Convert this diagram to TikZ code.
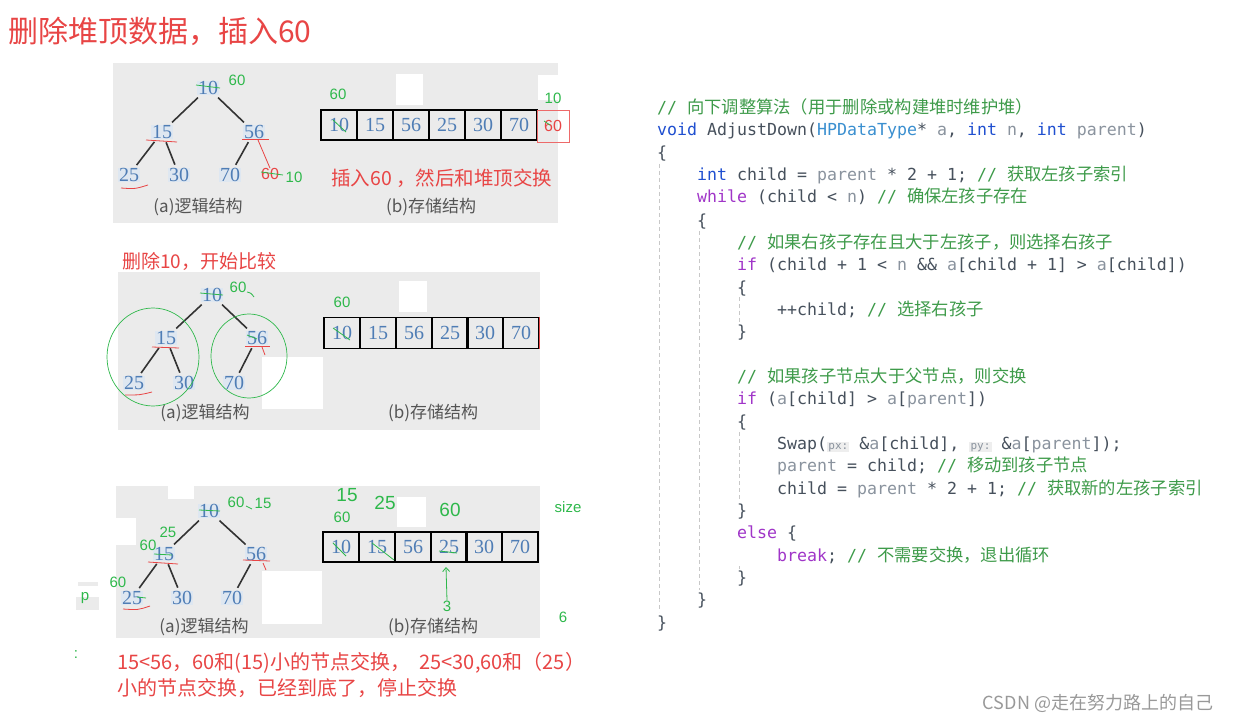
\documentclass[tikz,border=0pt]{standalone}
\usepackage{fontspec}
\usetikzlibrary{arrows.meta}
\setmainfont{Liberation Serif}
\newfontfamily\cjk{Noto Sans CJK SC}
\newfontfamily\codef{DejaVu Sans Mono}
\newfontfamily\sansf{Liberation Sans}
\definecolor{panelgray}{HTML}{EBEBEB}
\definecolor{treeblue}{HTML}{4F7DB5}
\definecolor{hlblue}{HTML}{DEE7F1}
\definecolor{myred}{HTML}{E84545}
\definecolor{mygreen}{HTML}{2EB84B}
\definecolor{edgec}{HTML}{333333}
\definecolor{labc}{HTML}{555555}
\definecolor{ckwc}{HTML}{1F4FD0}
\definecolor{cpuc}{HTML}{A035C8}
\definecolor{cpac}{HTML}{8A939E}
\definecolor{ccmc}{HTML}{3E9B4A}
\definecolor{ctyc}{HTML}{3A8FD0}
\definecolor{cdefc}{HTML}{46505C}
\definecolor{hintbg}{HTML}{EEEEEE}
\definecolor{hintfg}{HTML}{8A939E}
\definecolor{guidec}{HTML}{C8C8C8}
\newcommand\ckw[1]{\textcolor{ckwc}{#1}}
\newcommand\cpur[1]{\textcolor{cpuc}{#1}}
\newcommand\cpar[1]{\textcolor{cpac}{#1}}
\newcommand\ctyp[1]{\textcolor{ctyc}{#1}}
\newcommand\ccom[1]{\textcolor{ccmc}{//\ {\cjk\fontsize{17.3}{20}\selectfont #1}}}
\newcommand\chint[1]{{\setlength{\fboxsep}{1.2pt}\colorbox{hintbg}{\fontsize{11}{12}\selectfont\textcolor{hintfg}{#1}}}}
\tikzset{
  panel/.style={fill=panelgray, draw=none},
  whitebox/.style={fill=white, draw=none},
  tnum/.style={font=\fontsize{20}{22}\selectfont, text=treeblue, fill=hlblue, inner sep=0.6pt},
  tedge/.style={draw=edgec, line width=1.6pt, shorten <=3pt, shorten >=3pt},
  cell/.style={draw=black, line width=1.3pt, minimum width=36pt, minimum height=30pt, inner sep=0pt, font=\fontsize{20}{22}\selectfont, text=treeblue},
  lab/.style={font=\cjk\fontsize{17}{19}\selectfont, text=labc},
  gnote/.style={font=\sansf\fontsize{15}{17}\selectfont, text=mygreen, inner sep=0pt},
  ghand/.style={font=\sansf\fontsize{19}{22}\selectfont, text=mygreen, inner sep=0pt},
  rnote/.style={font=\cjk\fontsize{19.5}{22}\selectfont, text=myred, inner sep=0pt},
  gstroke/.style={draw=mygreen, line width=0.8pt},
  rstroke/.style={draw=myred, line width=0.8pt},
  codeline/.style={anchor=base west, font=\codef\fontsize{16.6}{20}\selectfont, text=cdefc, inner sep=0pt},
  guide/.style={draw=guidec, line width=0.6pt, dash pattern=on 4pt off 3pt},
}
\begin{document}
\begin{tikzpicture}[x=1pt,y=-1pt]
\useasboundingbox (0,0) rectangle (1236,722);
\fill[white] (0,0) rectangle (1236,722);

% ---------- title ----------
\node[font=\cjk\fontsize{30}{33}\selectfont, text=myred, anchor=west, inner sep=0pt] (title) at (8,31) {删除堆顶数据，插入60};

% ---------- panel 1 ----------
\fill[panel] (113,63) rectangle (558,223);
\fill[whitebox] (396,74) rectangle (423,105);
\fill[whitebox] (538,75) rectangle (558,100);
\node[tnum] (p1r) at (208,88) {10};
\node[tnum] (p1a) at (162,132) {15};
\node[tnum] (p1b) at (254,132) {56};
\node[tnum] (p1c) at (129,175) {25};
\node[tnum] (p1d) at (179,175) {30};
\node[tnum] (p1e) at (230,175) {70};
\draw[tedge] (p1r) -- (p1a);
\draw[tedge] (p1r) -- (p1b);
\draw[tedge] (p1a) -- (p1c);
\draw[tedge] (p1a) -- (p1d);
\draw[tedge] (p1b) -- (p1e);
\node[lab] (p1la) at (198,207) {(a)逻辑结构};
\node[lab] (p1lb) at (431,207) {(b)存储结构};
\node[cell] (p1c1) at (339,125) {10};
\node[cell] (p1c2) at (375,125) {15};
\node[cell] (p1c3) at (411,125) {56};
\node[cell] (p1c4) at (447,125) {25};
\node[cell] (p1c5) at (483,125) {30};
\node[cell] (p1c6) at (519,125) {70};
\node[draw=myred!80, line width=0.5pt, minimum width=32pt, minimum height=32pt, inner sep=0pt, font=\sansf\fontsize{16}{18}\selectfont, text=myred] (p1new) at (553,126) {60};
\node[gnote] (p1g1) at (237,80) {60};
\node[gnote] (p1g2) at (338,94) {60};
\node[gnote] (p1g3) at (553,98) {10};
\node[font=\sansf\fontsize{16}{18}\selectfont, text=myred, inner sep=0pt] (p1r60) at (270,174) {60};
\node[gnote] (p1g4) at (294,177) {10};
\node[rnote, anchor=west] (p1txt) at (331,178) {插入60 ，然后和堆顶交换};
\coordinate (p1ls) at (258,140);
\draw[rstroke] (p1ls) -- (p1r60.north);
\draw[gstroke] (196,85) -- (220,88);
\draw[gstroke] (261,172) -- (283,175);
\draw[gstroke] (333,120) -- (346,132);
\draw[gstroke] (544,121) -- (550,125);
\draw[rstroke] (146,140) -- (177,142);
\draw[rstroke] (242,139) -- (269,139);
\draw[rstroke] (121,188) .. controls (135,189) .. (148,185);

% ---------- panel 2 ----------
\node[rnote, font=\cjk\fontsize{19}{22}\selectfont, anchor=west] (p2title) at (122,261) {删除10，开始比较};
\fill[panel] (118,272) rectangle (540,430);
\fill[whitebox] (262,357) rectangle (323,409);
\fill[whitebox] (399,281) rectangle (427,312);
\node[tnum] (p2r) at (212,295) {10};
\node[tnum] (p2a) at (166,338) {15};
\node[tnum] (p2b) at (257,338) {56};
\node[tnum] (p2c) at (134,383) {25};
\node[tnum] (p2d) at (184,383) {30};
\node[tnum] (p2e) at (234,383) {70};
\draw[tedge] (p2r) -- (p2a);
\draw[tedge] (p2r) -- (p2b);
\draw[tedge] (p2a) -- (p2c);
\draw[tedge] (p2a) -- (p2d);
\draw[tedge] (p2b) -- (p2e);
\node[lab] (p2la) at (205,413) {(a)逻辑结构};
\node[lab] (p2lb) at (433,413) {(b)存储结构};
\node[cell, minimum width=35.8pt, minimum height=31pt] (p2c1) at (342,333) {10};
\node[cell, minimum width=35.8pt, minimum height=31pt] (p2c2) at (378,333) {15};
\node[cell, minimum width=35.8pt, minimum height=31pt] (p2c3) at (414,333) {56};
\node[cell, minimum width=35.8pt, minimum height=31pt] (p2c4) at (450,333) {25};
\node[cell, minimum width=35.8pt, minimum height=31pt] (p2c5) at (485,333) {30};
\node[cell, minimum width=35.8pt, minimum height=31pt] (p2c6) at (521,333) {70};
\draw[draw=myred, line width=1.2pt] (p2c6.north east) -- (p2c6.south east);
\node[gnote] (p2g1) at (238,287) {60};
\node[gnote] (p2g2) at (342,302) {60};
\draw[gstroke] (247,292) .. controls (251,293) .. (254,297);
\draw[gstroke] (200,293) -- (223,295);
\draw[gstroke] (333,328) -- (350,340);
\draw[gstroke] (247,335) -- (257,339);
\draw[mygreen, line width=0.7pt] (153,357) ellipse [x radius=46, y radius=49];
\draw[mygreen, line width=0.7pt] (249,356) ellipse [x radius=38, y radius=42];
\draw[rstroke] (152,347) -- (179,348);
\draw[rstroke] (245,346) -- (270,346);
\draw[rstroke] (262,347) -- (265,355);
\draw[rstroke] (125,395) .. controls (140,395) .. (152,392);

% ---------- panel 3 ----------
\fill[panel] (116,486) rectangle (540,638);
\fill[whitebox] (168,485) rectangle (194,499);
\fill[whitebox] (115,518) rectangle (136,545);
\fill[whitebox] (262,571) rectangle (322,624);
\fill[whitebox] (397,497) rectangle (426,527);
\fill[panel] (78,582) rectangle (98,586);
\fill[panel] (76,597) rectangle (99,610);
\node[tnum] (p3r) at (209,511) {10};
\node[tnum] (p3a) at (164,554) {15};
\node[tnum] (p3b) at (256,554) {56};
\node[tnum] (p3c) at (132,598) {25};
\node[tnum] (p3d) at (182,598) {30};
\node[tnum] (p3e) at (232,598) {70};
\draw[tedge] (p3r) -- (p3a);
\draw[tedge] (p3r) -- (p3b);
\draw[tedge] (p3a) -- (p3c);
\draw[tedge] (p3a) -- (p3d);
\draw[tedge] (p3b) -- (p3e);
\node[lab] (p3la) at (204,627) {(a)逻辑结构};
\node[lab] (p3lb) at (433,627) {(b)存储结构};
\node[cell, minimum width=35.8pt] (p3c1) at (341,547) {10};
\node[cell, minimum width=35.8pt] (p3c2) at (377,547) {15};
\node[cell, minimum width=35.8pt] (p3c3) at (413,547) {56};
\node[cell, minimum width=35.8pt] (p3c4) at (449,547) {25};
\node[cell, minimum width=35.8pt] (p3c5) at (484,547) {30};
\node[cell, minimum width=35.8pt] (p3c6) at (520,547) {70};
\node[gnote] (p3g1) at (236,502) {60};
\node[gnote] (p3g2) at (263,503) {15};
\node[gnote] (p3g3) at (168,532) {25};
\node[gnote] (p3g4) at (148,545) {60};
\node[gnote] (p3g5) at (118,582) {60};
\node[gnote] (p3g6) at (342,517) {60};
\node[ghand] (p3h1) at (347,495) {15};
\node[ghand] (p3h2) at (385,503) {25};
\node[ghand] (p3h3) at (450,510) {60};
\node[gnote] (p3three) at (447,606) {3};
\coordinate (p3arr) at (446,567);
\draw[gstroke, -{Straight Barb[length=4pt,width=7pt]}] (p3three.north) -- (p3arr);
\node[gnote] (p3size) at (568,507) {size};
\node[gnote] (p3six) at (563,617) {6};
\node[gnote] (p3p) at (85,598) {p};
\node[gnote] (p3colon) at (76,655) {:};
\draw[gstroke] (246,506) -- (252,509);
\draw[gstroke] (199,510) -- (220,511);
\draw[gstroke] (154,554) -- (172,555);
\draw[gstroke] (137,597) -- (146,598);
\draw[gstroke] (333,543) -- (346,556);
\draw[gstroke] (372,543) -- (394,560);
\draw[gstroke] (439,551) -- (457,553);
\draw[rstroke] (148,562) -- (178,564);
\draw[rstroke] (243,560) -- (270,561);
\draw[rstroke] (263,563) -- (266,570);
\draw[rstroke] (123,609) .. controls (138,610) .. (150,606);
\node[rnote, font=\cjk\fontsize{20}{22}\selectfont, anchor=west] (p3t1) at (117,663) {15<56，60和(15)小的节点交换，\ \ 25<30,60和（25）};
\node[rnote, font=\cjk\fontsize{20}{22}\selectfont, anchor=west] (p3t2) at (117,688) {小的节点交换，已经到底了，停止交换};

% ---------- code ----------
\draw[guide] (659,164) -- (659,612);
\draw[guide] (699,231) -- (699,590);
\draw[guide] (739,297) -- (739,322);
\draw[guide] (739,432) -- (739,500);
\draw[guide] (739,566) -- (739,569);
\node[codeline] (l0) at (657,114) {\ccom{向下调整算法（用于删除或构建堆时维护堆）}};
\node[codeline] (l1) at (657,136) {\ckw{void} AdjustDown(\ctyp{HPDataType}* \cpar{a}, \ckw{int} \cpar{n}, \ckw{int} \cpar{parent})};
\node[codeline] (l2) at (657,159) {\{};
\node[codeline] (l3) at (697,181) {\ckw{int} child = \cpar{parent} * 2 + 1; \ccom{获取左孩子索引}};
\node[codeline] (l4) at (697,203) {\cpur{while} (child < \cpar{n}) \ccom{确保左孩子存在}};
\node[codeline] (l5) at (697,226) {\{};
\node[codeline] (l6) at (737,248) {\ccom{如果右孩子存在且大于左孩子，则选择右孩子}};
\node[codeline] (l7) at (737,270) {\cpur{if} (child + 1 < \cpar{n} \&\& \cpar{a}[child + 1] > \cpar{a}[child])};
\node[codeline] (l8) at (737,293) {\{};
\node[codeline] (l9) at (777,315) {++child; \ccom{选择右孩子}};
\node[codeline] (l10) at (737,337.5) {\}};
\node[codeline] (l12) at (737,382) {\ccom{如果孩子节点大于父节点，则交换}};
\node[codeline] (l13) at (737,404.6) {\cpur{if} (\cpar{a}[child] > \cpar{a}[\cpar{parent}])};
\node[codeline] (l14) at (737,427) {\{};
\node[codeline] (l15) at (777,449) {Swap(\chint{px:} \&\cpar{a}[child], \chint{py:} \&\cpar{a}[\cpar{parent}]);};
\node[codeline] (l16) at (777,471.6) {\cpar{parent} = child; \ccom{移动到孩子节点}};
\node[codeline] (l17) at (777,494) {child = \cpar{parent} * 2 + 1; \ccom{获取新的左孩子索引}};
\node[codeline] (l18) at (737,516) {\}};
\node[codeline] (l19) at (737,538.7) {\cpur{else} \{};
\node[codeline] (l20) at (777,561) {\cpur{break}; \ccom{不需要交换，退出循环}};
\node[codeline] (l21) at (737,583) {\}};
\node[codeline] (l22) at (697,605.7) {\}};
\node[codeline] (l23) at (657,628) {\}};

% ---------- watermark ----------
\node[font=\cjk\fontsize{18}{20}\selectfont, text=black!40, inner sep=0pt] (wm) at (1098,703) {CSDN @走在努力路上的自己};
\end{tikzpicture}
\end{document}
